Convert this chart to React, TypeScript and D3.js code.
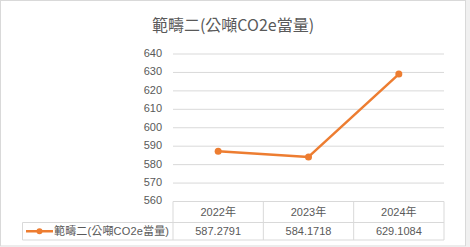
import React from "react";
import * as d3 from "d3";

const categories = ["2022年", "2023年", "2024年"];
const values = [587.2791, 584.1718, 629.1084];
const valueLabels = ["587.2791", "584.1718", "629.1084"];
const yTicks = [560, 570, 580, 590, 600, 610, 620, 630, 640];
const seriesName = "範疇二(公噸CO2e當量)";
const title = "範疇二(公噸CO2e當量)";

const FONT = "'Liberation Sans', Arial, 'Noto Sans CJK TC', sans-serif";

export default function App() {
  const W = 470, H = 247;
  const left = 173, right = 444, top = 54, bottom = 201.5;
  const row1 = 222.5, row2 = 240;
  const legendLeft = 22.5;
  const x = d3.scaleBand<string>().domain(categories).range([left, right]);
  const y = d3.scaleLinear().domain([560, 640]).range([bottom, top]);
  const line = d3
    .line<number>()
    .x((_, i) => (x(categories[i]) as number) + x.bandwidth() / 2)
    .y((d) => y(d));
  const color = "#ED7D31";
  const grid = "#d9d9d9";
  const text = "#595959";

  return (
    <svg
      width={W}
      height={H}
      style={{ position: "absolute", left: 0, top: 0, fontFamily: FONT }}
    >
      <rect x={0} y={0} width={W} height={H} fill="#ffffff" />
      <rect x={466} y={0} width={4} height={H} fill="#f0f0f0" />
      <rect x={0.5} y={0.5} width={465} height={245.5} fill="#ffffff" stroke={grid} />
      <text
        x={233}
        y={31}
        textAnchor="middle"
        fontSize={16}
        fill={text}
        fontFamily="'Noto Sans CJK TC', sans-serif"
      >
        {title}
      </text>
      {yTicks.map((t) => (
        <g key={t}>
          {t !== 560 && (
            <line x1={left} x2={right} y1={y(t)} y2={y(t)} stroke={grid} strokeWidth={1} />
          )}
          <text
            x={162}
            y={y(t)}
            textAnchor="end"
            dominantBaseline="middle"
            fontSize={11}
            fill={text}
          >
            {t}
          </text>
        </g>
      ))}
      {/* data table */}
      <g stroke={grid} strokeWidth={1} fill="none">
        <line x1={left} x2={right} y1={bottom} y2={bottom} />
        <line x1={legendLeft} x2={right} y1={row1} y2={row1} />
        <line x1={legendLeft} x2={right} y1={row2} y2={row2} />
        <line x1={legendLeft} x2={legendLeft} y1={row1} y2={row2} />
        {categories.map((c) => (
          <line key={c} x1={x(c) as number} x2={x(c) as number} y1={bottom} y2={row2} />
        ))}
        <line x1={right} x2={right} y1={bottom} y2={row2} />
      </g>
      {categories.map((c, i) => (
        <g key={c}>
          <text
            x={(x(c) as number) + x.bandwidth() / 2}
            y={(bottom + row1) / 2 + 1}
            textAnchor="middle"
            dominantBaseline="middle"
            fontSize={11}
            fill={text}
          >
            {c}
          </text>
          <text
            x={(x(c) as number) + x.bandwidth() / 2}
            y={(row1 + row2) / 2 + 1}
            textAnchor="middle"
            dominantBaseline="middle"
            fontSize={11}
            fill={text}
          >
            {valueLabels[i]}
          </text>
        </g>
      ))}
      <line x1={26} x2={53} y1={(row1 + row2) / 2} y2={(row1 + row2) / 2} stroke={color} strokeWidth={2.5} />
      <circle cx={39.5} cy={(row1 + row2) / 2} r={3} fill={color} />
      <text
        x={54}
        y={(row1 + row2) / 2 + 1}
        dominantBaseline="middle"
        fontSize={11}
        fill={text}
        textLength={115}
      >
        {seriesName}
      </text>
      <path d={line(values) || ""} fill="none" stroke={color} strokeWidth={2.5} strokeLinejoin="round" />
      {values.map((v, i) => (
        <circle
          key={i}
          cx={(x(categories[i]) as number) + x.bandwidth() / 2}
          cy={y(v)}
          r={3.5}
          fill={color}
        />
      ))}
    </svg>
  );
}
